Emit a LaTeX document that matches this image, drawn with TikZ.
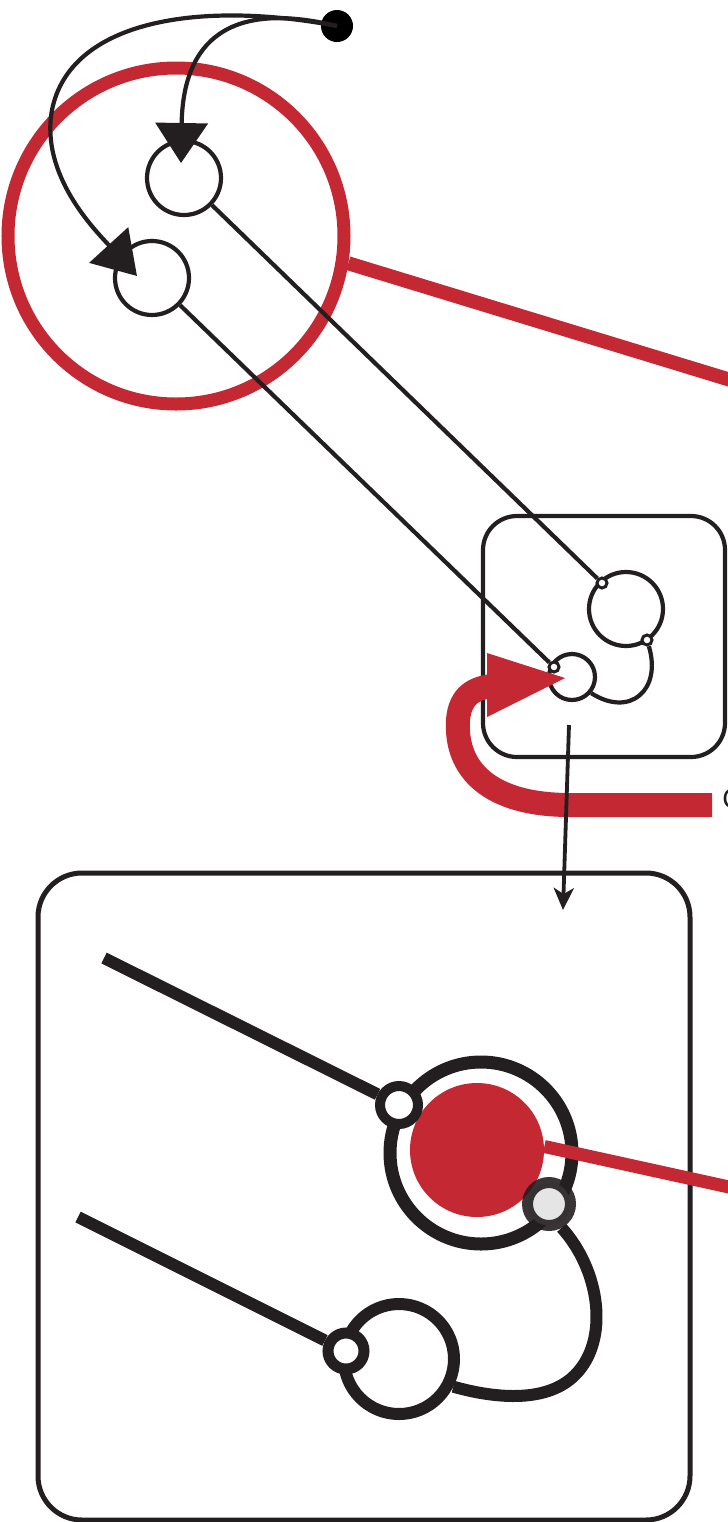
\documentclass[tikz,border=0pt]{standalone}
\usepackage{fontspec}
\setmainfont{Liberation Sans}
\usetikzlibrary{arrows.meta}
\definecolor{rd}{RGB}{196,40,50}
\definecolor{ink}{RGB}{35,31,32}
\begin{document}
\begin{tikzpicture}[x=0.5pt,y=-0.5pt,
  thincirc/.style={circle,draw=ink,line width=2.1pt,fill=white,inner sep=0pt},
  smallport/.style={circle,draw=ink,line width=1.5pt,fill=white,inner sep=0pt,minimum size=5pt},
  thincon/.style={draw=ink,line width=2.1pt},
  thickcirc/.style={circle,draw=ink,fill=white,inner sep=0pt},
  thickcon/.style={draw=ink,line width=6pt},
  box/.style={draw=ink,inner sep=0pt}]
\useasboundingbox (0,0) rectangle (728,1522);
\clip (0,0) rectangle (728,1522);

% ---------- top ----------
\node[circle,draw=rd,line width=6.5pt,minimum size=168pt,inner sep=0pt] (ring) at (176,236) {};
\draw[rd,line width=7pt] (ring.-9.5) -- (770,392);

\node[thincirc,minimum size=37pt] (A) at (184,178) {};
\node[thincirc,minimum size=37pt] (B) at (152,278) {};
\node[circle,fill=black,inner sep=0pt,minimum size=16pt] (dot) at (337,26) {};

\draw[thincon,-{Triangle[length=20pt,width=26pt]}]
  (dot.center) .. controls (230,0) and (183,40) .. ([shift={(-3,-15)}]A.center);
\draw[thincon,-{Triangle[length=21pt,width=26pt]}]
  (dot.center) .. controls (200,0) and (70,20) .. (52,110)
  .. controls (40,175) and (95,230) .. ([shift={(-15,-2)}]B.center);

% ---------- middle box ----------
\node[box,line width=2.1pt,rounded corners=17pt,minimum width=121pt,minimum height=120.5pt] (mid) at (604,636.5) {};
\node[thincirc,minimum size=37pt] (C) at (626,609) {};
\node[thincirc,minimum size=23pt] (D) at (572,677) {};
\node[smallport] (p1) at (602,583) {};
\node[smallport] (p2) at (647,640) {};
\node[smallport] (p3) at (554,667) {};
\draw[thincon] (p2) .. controls (662,690) and (630,718) .. (D.-40);
\draw[thincon] (A) -- (p1);
\draw[thincon] (B) -- (p3);

% red arrow
\coordinate (rs) at (712,805);
\node[anchor=west,inner sep=0pt,text=ink,font=\fontsize{14pt}{16pt}\selectfont] (lbl) at (722,799) {C};
\draw[rd,line width=12pt] (rs) -- (570,805) .. controls (490,805) and (455,770) .. (458,720)
  .. controls (460,695) and (475,688) .. (492,686);
\fill[rd] (487,653) -- (565,678) -- (487,717) -- cycle;

% black arrow to bottom box
\coordinate (bs) at (569,725);
\coordinate (be) at (563,910);
\draw[thincon,line width=1.9pt,-{Stealth[length=11pt,width=10pt,inset=3pt]}] (bs) -- (be);

% ---------- bottom box ----------
\node[box,line width=2.5pt,rounded corners=22pt,minimum width=326pt,minimum height=323.5pt] (bot) at (364,1196.5) {};

\node[circle,draw=ink,line width=6.5pt,minimum size=91pt,inner sep=0pt] (F) at (481,1153) {};
\node[circle,fill=rd,minimum size=67pt,inner sep=0pt] (Rd) at (477,1150) {};
\draw[rd,line width=6.5pt] (Rd.3) -- (770,1196);

\coordinate (l1) at (104,958);
\coordinate (l2) at (78,1217);
\node[thickcirc,line width=5pt,minimum size=19pt] (E) at (399,1105) {};
\node[thickcirc,line width=6pt,minimum size=55pt] (H) at (399,1359) {};
\node[thickcirc,line width=5.5pt,minimum size=18pt] (I) at (346,1351) {};
\node[circle,draw=ink,draw opacity=0.9,fill=black!10,line width=5.5pt,minimum size=21.5pt,inner sep=0pt] (G) at (549,1204) {};
\draw[thickcon] (l1) -- (E);
\draw[thickcon] (l2) -- (I);
\draw[thickcon] (G.-62) .. controls (600,1270) and (610,1340) .. (575,1375)
  .. controls (545,1405) and (490,1397) .. (H.-27);
\end{tikzpicture}
\end{document}
